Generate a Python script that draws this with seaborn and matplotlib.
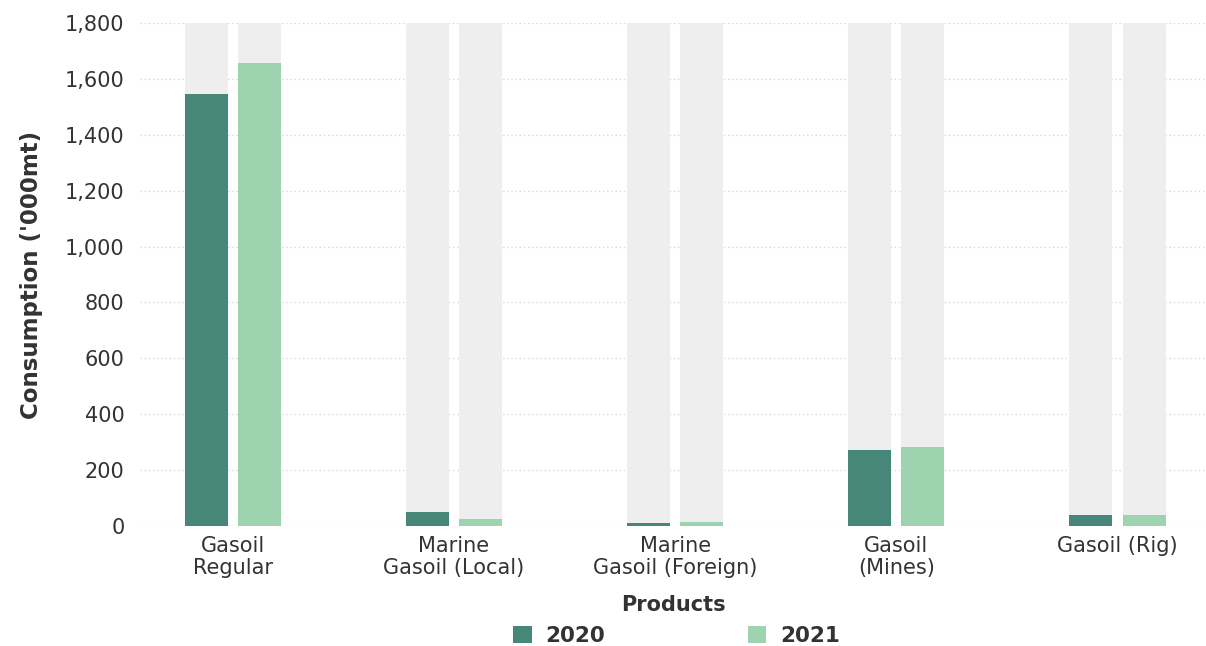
import matplotlib
matplotlib.use("Agg")
import matplotlib.pyplot as plt
from matplotlib.patches import Patch
from matplotlib.ticker import FuncFormatter
import seaborn as sns
import pandas as pd

products = ["Gasoil\nRegular", "Marine\nGasoil (Local)", "Marine\nGasoil (Foreign)",
            "Gasoil\n(Mines)", "Gasoil (Rig)"]
years = ["2020", "2021"]
values_2020 = [1546, 50, 11, 272, 39]
values_2021 = [1657, 25, 14, 283, 40]
y_max = 1800

colors = {"2020": "#47877a", "2021": "#9dd3ae"}
track_color = "#eeeeee"
text_color = "#333333"

df = pd.DataFrame({
    "Products": products * 2,
    "Year": [years[0]] * len(products) + [years[1]] * len(products),
    "Value": values_2020 + values_2021,
})
track = df.assign(Value=y_max)

sns.set_theme(style="white")
plt.rcParams["font.family"] = ["DejaVu Sans"]

fig = plt.figure(figsize=(12.06, 6.46), dpi=100)
ax = fig.add_axes([0.116, 0.1858, 0.884, 0.7786])

bar_kw = dict(x="Products", y="Value", hue="Year", order=products, hue_order=years,
              width=0.48, gap=0.19, saturation=1, ax=ax, errorbar=None, linewidth=0)
sns.barplot(data=track, palette=[track_color, track_color], legend=False, zorder=1, **bar_kw)
sns.barplot(data=df, palette=colors, legend=False, zorder=2, **bar_kw)

ax.set_ylim(0, y_max)
ax.set_xlim(-0.42, 4.40)
ax.set_yticks(range(0, y_max + 1, 200))
ax.yaxis.set_major_formatter(FuncFormatter(lambda v, p: f"{int(v):,}"))
ax.grid(axis="y", linestyle=(0, (1, 2)), color="#d8d8d8", linewidth=1, zorder=0)
ax.set_axisbelow(True)
for s in ax.spines.values():
    s.set_visible(False)

ax.tick_params(axis="both", length=0, labelsize=15, colors=text_color)
ax.tick_params(axis="y", pad=11)
ax.tick_params(axis="x", pad=7)
for lbl in ax.get_xticklabels():
    lbl.set_linespacing(1.17)

ax.set_xlabel("Products", fontsize=15, fontweight="bold", color=text_color, labelpad=12)
ax.set_ylabel("Consumption ('000mt)", fontsize=16.5, fontweight="bold", color=text_color, labelpad=16)

handles = [Patch(facecolor=colors[y], edgecolor="none") for y in years]
fig.legend(handles, years, loc="center", bbox_to_anchor=(0.561, 0.015), ncol=2,
           frameon=False, handlelength=0.85, handleheight=0.85, columnspacing=6.6,
           handletextpad=0.65, prop={"weight": "bold", "size": 15.5},
           labelcolor=text_color)

fig.savefig("out.png", dpi=100)
